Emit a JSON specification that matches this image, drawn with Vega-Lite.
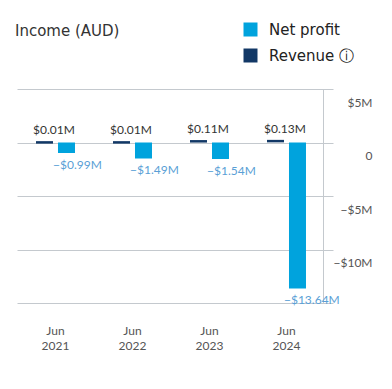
{
  "$schema": "https://vega.github.io/schema/vega-lite/v6.json",
  "width": 316,
  "height": 214,
  "autosize": {"type": "none"},
  "padding": {"left": 17, "top": 89, "right": 59, "bottom": 86},
  "background": "white",
  "title": {"text": "Income (AUD)", "anchor": "start", "frame": "group", "offset": -17, "dx": -2, "fontSize": 15, "font": "DejaVu Sans", "fontWeight": "normal", "color": "#333333"},
  "data": {"values": [
    {"year": "2021", "series": "Revenue", "value": 0.01, "label": "$0.01M"},
    {"year": "2021", "series": "Net profit", "value": -0.99, "label": "−$0.99M"},
    {"year": "2022", "series": "Revenue", "value": 0.01, "label": "$0.01M"},
    {"year": "2022", "series": "Net profit", "value": -1.49, "label": "−$1.49M"},
    {"year": "2023", "series": "Revenue", "value": 0.11, "label": "$0.11M"},
    {"year": "2023", "series": "Net profit", "value": -1.54, "label": "−$1.54M"},
    {"year": "2024", "series": "Revenue", "value": 0.13, "label": "$0.13M"},
    {"year": "2024", "series": "Net profit", "value": -13.64, "label": "−$13.64M"}
  ]},
  "config": {
    "font": "Lato",
    "view": {"stroke": null}
  },
  "encoding": {
    "x": {"field": "year", "type": "ordinal",
      "scale": {"paddingInner": 0, "paddingOuter": 0.052, "align": 0},
      "axis": {"title": null, "domain": false, "ticks": false, "labelAngle": 0, "labelPadding": 22, "labelBaseline": "top",
        "labelExpr": "['Jun', datum.value]", "labelLineHeight": 15, "labelFontSize": 12, "labelColor": "#555555", "labelFont": "Lato"}},
    "y": {"field": "value", "type": "quantitative",
      "scale": {"domain": [-15, 5], "nice": false, "zero": false},
      "axis": {"orient": "right", "offset": -10, "title": null, "values": [5, 0, -5, -10, -15],
        "domainColor": "#c4c9ce", "gridColor": "#c4c9ce", "ticks": false, "tickSize": 0,
        "labelAlign": "right", "labelPadding": 49, "labelOffset": 13, "labelBaseline": "middle",
        "labelFontSize": 12, "labelColor": "#555555", "labelFont": "Lato",
        "labelExpr": "datum.value == -15 ? '' : (datum.value == 0 ? '0' : (datum.value > 0 ? '$' + datum.value + 'M' : '−$' + abs(datum.value) + 'M'))"}},
    "xOffset": {"field": "series", "type": "nominal",
      "scale": {"domain": ["Revenue", "Net profit"], "paddingInner": 0.227, "paddingOuter": 0.864}}
  },
  "layer": [
    {
      "transform": [{"filter": "datum.series == 'Net profit'"}],
      "mark": {"type": "bar", "opacity": 1},
      "encoding": {
        "y2": {"datum": 0},
        "color": {"field": "series", "type": "nominal",
          "scale": {"domain": ["Net profit", "Revenue"], "range": ["#00a3dd", "#123866"]},
          "legend": {"title": null, "orient": "none", "legendX": 226, "legendY": -67, "direction": "vertical",
            "symbolType": "square", "symbolSize": 196, "symbolStrokeWidth": 0, "symbolOpacity": 1,
            "labelFontSize": 15, "labelColor": "#222222", "labelFont": "DejaVu Sans", "labelOffset": 11, "rowPadding": 10, "padding": 0,
            "labelExpr": "datum.value == 'Revenue' ? 'Revenue ⓘ' : datum.value"}}
      }
    },
    {
      "transform": [{"filter": "datum.series == 'Revenue'"}],
      "mark": {"type": "tick", "orient": "horizontal", "thickness": 2.5, "size": 17, "opacity": 1},
      "encoding": {"color": {"field": "series", "type": "nominal"}}
    },
    {
      "transform": [{"filter": "datum.series == 'Revenue'"}],
      "mark": {"type": "text", "align": "left", "baseline": "alphabetic", "dx": 16, "dy": -8, "fontSize": 12, "color": "#333333"},
      "encoding": {
        "x": {"field": "year", "type": "ordinal", "bandPosition": 0},
        "xOffset": {"value": 0},
        "text": {"field": "label"}
      }
    },
    {
      "transform": [{"filter": "datum.series == 'Net profit'"}],
      "mark": {"type": "text", "align": "left", "baseline": "top", "dx": 36, "dy": 7, "fontSize": 12, "color": "#5a9fd6"},
      "encoding": {
        "x": {"field": "year", "type": "ordinal", "bandPosition": 0},
        "xOffset": {"value": 0},
        "text": {"field": "label"}
      }
    }
  ]
}
